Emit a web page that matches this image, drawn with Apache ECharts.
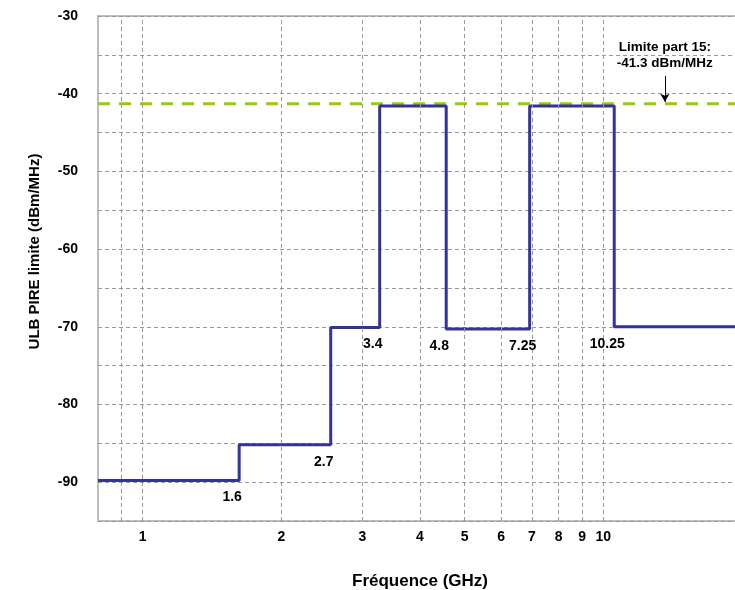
<!DOCTYPE html>
<html><head><meta charset="utf-8">
<script src="https://cdn.jsdelivr.net/npm/echarts@6/dist/echarts.min.js"></script>
<style>html,body{margin:0;padding:0;background:#fff}#c{width:735px;height:590px}</style>
</head><body><div id="c"></div>
<script>
// ---- data ----
const stepEdges = [0.8, 1.62, 2.56, 3.27, 4.56, 6.92, 10.56, 20];
const stepLevels = [-89.8, -85.2, -70.1, -41.6, -70.3, -41.6, -70.0];
const edgeLabels = ['1.6', '2.7', '3.4', '4.8', '7.25', '10.25'];
const limitValue = -41.3;
const limitText = ['Limite part 15:', '-41.3 dBm/MHz'];
const arrowFreq = 13.6;
const arrowTop = -37.7;
const arrowTip = -41.05;
const xTickLabels = [1, 2, 3, 4, 5, 6, 7, 8, 9, 10];
const xGridValues = [0.9, 1, 2, 3, 4, 5, 6, 7, 8, 9, 10];
const xRange = [0.8, 20];
const yRange = [-95, -30];
const yLabelStep = 10;

// ---- build ----
const FONT = 'Liberation Sans, Arial, Helvetica, sans-serif';
const stepData = stepEdges.slice(0, stepLevels.length).map((x, i) => [x, stepLevels[i]]);
stepData.push([stepEdges[stepEdges.length - 1], stepLevels[stepLevels.length - 1]]);
const edgeLabelData = edgeLabels.map((t, i) => ({
  coord: [stepEdges[i + 1], Math.min(stepLevels[i], stepLevels[i + 1])], value: t
}));

const chart = echarts.init(document.getElementById('c'), null, {renderer: 'canvas'});
chart.setOption({
  animation: false,
  backgroundColor: '#fff',
  grid: {left: 98, top: 16, width: 644, height: 505, outerBoundsMode: 'none', containLabel: false,
    show: true, borderColor: '#bdbdbd', borderWidth: 2, backgroundColor: 'transparent'},
  xAxis: {
    type: 'log', logBase: 10, min: xRange[0], max: xRange[1],
    axisLine: {show: false}, axisTick: {show: false}, axisLabel: {show: false}, splitLine: {show: false}, minorSplitLine: {show: false},
    name: 'Fréquence (GHz)', nameLocation: 'middle', nameGap: 52,
    nameTextStyle: {fontFamily: FONT, fontWeight: 'bold', fontSize: 17, color: '#000'}
  },
  yAxis: {
    type: 'value', min: yRange[0], max: yRange[1], interval: 5,
    axisLine: {show: false}, axisTick: {show: false},
    axisLabel: {fontFamily: FONT, fontWeight: 'bold', fontSize: 14, color: '#000', margin: 20,
      formatter: v => (Math.abs(v % yLabelStep) < 1e-9 ? String(v) : '')},
    splitLine: {show: true, lineStyle: {type: [4, 3], color: '#999', width: 1}},
    name: 'ULB PIRE limite (dBm/MHz)', nameLocation: 'middle', nameGap: 56, nameRotate: 90,
    nameTextStyle: {fontFamily: FONT, fontWeight: 'bold', fontSize: 15, color: '#000', padding: [0, 0, 0, 34]}
  },
  series: [
    {
      type: 'line', data: [], silent: true, z: 1,
      markLine: {
        silent: true, symbol: ['none', 'none'], animation: false,
        lineStyle: {type: [4, 3], color: '#999', width: 1},
        label: {show: true, position: 'start', distance: 9, fontFamily: FONT, fontWeight: 'bold', fontSize: 14, color: '#000',
          formatter: p => (xTickLabels.indexOf(p.value) >= 0 ? String(p.value) : '')},
        emphasis: {disabled: true},
        data: xGridValues.map(v => ({xAxis: v}))
      }
    },
    {
      type: 'line', data: [[xRange[0], limitValue], [xRange[1], limitValue]],
      symbol: 'none', z: 2, silent: true,
      lineStyle: {color: '#99cc00', width: 3, type: [12, 9]},
      markLine: {
        silent: true, symbol: ['none', 'arrow'], symbolSize: [7, 8], animation: false,
        lineStyle: {type: 'solid', color: '#000', width: 1},
        label: {show: true, position: 'start', distance: 5, fontFamily: FONT, fontWeight: 'bold', fontSize: 13.5, lineHeight: 16, color: '#000',
          formatter: limitText.join('\n')},
        emphasis: {disabled: true},
        data: [[{coord: [arrowFreq, arrowTop]}, {coord: [arrowFreq, arrowTip]}]]
      }
    },
    {
      type: 'line', data: stepData, step: 'end', symbol: 'none', z: 3, silent: true,
      lineStyle: {color: '#333399', width: 3},
      markPoint: {
        silent: true, animation: false, symbol: 'circle', symbolSize: 0.1,
        itemStyle: {color: '#000', opacity: 1},
        label: {show: true, position: 'inside', offset: [-7, 17], fontFamily: FONT, fontWeight: 'bold', fontSize: 14,
          color: '#000', textBorderWidth: 0, opacity: 1, formatter: p => p.value},
        emphasis: {disabled: true},
        data: edgeLabelData
      }
    }
  ]
});
</script></body></html>
